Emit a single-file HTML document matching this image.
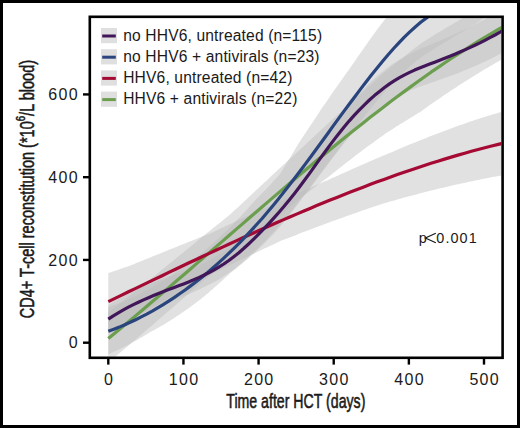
<!DOCTYPE html>
<html><head><meta charset="utf-8"><style>
html,body{margin:0;padding:0;background:#fff}
#w{position:relative;width:520px;height:428px;box-sizing:border-box;border:3px solid #000;overflow:hidden;background:#fff}
svg{position:absolute;left:-3px;top:-3px}
text{font-family:"Liberation Sans",sans-serif;fill:#1a1a1a}
.tk{font-size:16px;letter-spacing:1.3px}
.lg{font-size:15.6px;letter-spacing:0.15px}
.pv{font-size:14.4px;letter-spacing:0.8px}
.ax{font-size:19.6px;stroke:#1a1a1a;stroke-width:0.55px}
</style></head><body><div id="w">
<svg width="520" height="428" viewBox="0 0 520 428">
<defs><clipPath id="cp"><rect x="91" y="18" width="410.3" height="338.5"/></clipPath></defs>
<g clip-path="url(#cp)">
<polygon points="108.3,312.5 110.3,310.9 112.3,309.3 114.3,307.8 116.3,306.2 118.3,304.6 120.3,303.1 122.3,301.5 124.3,300.0 126.3,298.4 128.3,296.8 130.3,295.2 132.3,293.6 134.3,292.0 136.3,290.4 138.3,288.8 140.3,287.2 142.3,285.7 144.3,284.0 146.3,282.4 148.3,280.8 150.3,279.2 152.3,277.6 154.3,276.0 156.3,274.4 158.3,272.8 160.3,271.1 162.3,269.5 164.3,267.9 166.3,266.3 168.3,264.6 170.3,263.0 172.3,261.4 174.3,259.7 176.3,258.1 178.3,256.5 180.3,254.8 182.3,253.2 184.3,251.6 186.3,249.9 188.3,248.3 190.3,246.7 192.3,245.0 194.3,243.4 196.3,241.7 198.3,240.1 200.3,238.4 202.3,236.8 204.3,235.2 206.3,233.6 208.3,232.0 210.3,230.4 212.3,228.8 214.3,227.2 216.3,225.6 218.3,224.0 220.3,222.4 222.3,220.8 224.3,219.2 226.3,217.6 228.3,216.0 230.3,214.3 232.3,212.5 234.3,210.6 236.3,208.8 238.3,206.9 240.3,205.0 242.3,203.2 244.3,201.3 246.3,199.4 248.3,197.5 250.3,195.7 252.3,193.8 254.3,191.9 256.3,190.0 258.3,188.2 260.3,186.3 262.3,184.4 264.3,182.6 266.3,180.7 268.3,178.9 270.3,177.0 272.3,175.1 274.3,173.3 276.3,171.4 278.3,169.5 280.3,167.7 282.3,165.8 284.3,164.0 286.3,162.2 288.3,160.3 290.3,158.5 292.3,156.7 294.3,154.8 296.3,153.0 298.3,151.2 300.3,149.3 302.3,147.4 304.3,145.5 306.3,143.7 308.3,141.8 310.3,139.9 312.3,138.0 314.3,136.2 316.3,134.3 318.3,132.5 320.3,130.6 322.3,128.8 324.3,126.9 326.3,125.1 328.3,123.2 330.3,121.4 332.3,119.5 334.3,117.7 336.3,115.9 338.3,114.0 340.3,112.2 342.3,110.3 344.3,108.5 346.3,106.7 348.3,104.9 350.3,103.1 352.3,101.3 354.3,99.5 356.3,97.6 358.3,95.8 360.3,94.0 362.3,92.2 364.3,90.4 366.3,88.6 368.3,86.7 370.3,84.9 372.3,83.2 374.3,81.4 376.3,79.6 378.3,77.8 380.3,76.1 382.3,74.3 384.3,72.6 386.3,70.9 388.3,69.2 390.3,67.6 392.3,66.0 394.3,64.3 396.3,62.7 398.3,61.1 400.3,59.5 402.3,57.9 404.3,56.4 406.3,54.8 408.3,53.2 410.3,51.6 412.3,50.0 414.3,48.5 416.3,46.9 418.3,45.4 420.3,43.9 422.3,42.6 424.3,41.3 426.3,40.0 428.3,38.8 430.3,37.5 432.3,36.2 434.3,35.0 436.3,33.8 438.3,32.6 440.3,31.4 442.3,30.2 444.3,29.0 446.3,27.8 448.3,26.6 450.3,25.4 452.3,24.2 454.3,23.0 456.3,21.9 458.3,20.7 460.3,19.6 462.3,18.3 464.3,17.1 466.3,15.8 468.3,14.5 470.3,13.2 472.3,11.9 474.3,10.7 476.3,9.4 478.3,8.2 480.3,7.0 482.3,5.8 484.3,4.6 486.3,3.4 488.3,2.2 490.3,1.1 492.3,-0.1 494.3,-1.3 496.3,-2.4 498.3,-3.6 500.3,-4.7 502.3,-5.9 504.3,-7.0 505.0,-7.4 505.0,57.6 504.3,58.0 502.3,59.1 500.3,60.3 498.3,61.4 496.3,62.6 494.3,63.7 492.3,64.9 490.3,66.1 488.3,67.2 486.3,68.4 484.3,69.6 482.3,70.8 480.3,72.0 478.3,73.2 476.3,74.4 474.3,75.7 472.3,76.9 470.3,78.2 468.3,79.5 466.3,80.8 464.3,82.1 462.3,83.3 460.3,84.6 458.3,85.8 456.3,87.2 454.3,88.5 452.3,89.8 450.3,91.1 448.3,92.4 446.3,93.8 444.3,95.1 442.3,96.5 440.3,97.9 438.3,99.3 436.3,100.6 434.3,102.0 432.3,103.3 430.3,104.7 428.3,106.1 426.3,107.6 424.3,109.0 422.3,110.4 420.3,111.9 418.3,113.1 416.3,114.3 414.3,115.5 412.3,116.7 410.3,117.9 408.3,119.2 406.3,120.4 404.3,121.7 402.3,122.9 400.3,124.1 398.3,125.4 396.3,126.6 394.3,127.9 392.3,129.2 390.3,130.5 388.3,131.8 386.3,133.1 384.3,134.4 382.3,135.9 380.3,137.3 378.3,138.8 376.3,140.2 374.3,141.7 372.3,143.2 370.3,144.6 368.3,146.1 366.3,147.6 364.3,149.1 362.3,150.6 360.3,152.1 358.3,153.6 356.3,155.1 354.3,156.6 352.3,158.2 350.3,159.7 348.3,161.2 346.3,162.8 344.3,164.3 342.3,165.9 340.3,167.5 338.3,169.1 336.3,170.7 334.3,172.2 332.3,173.8 330.3,175.4 328.3,176.9 326.3,178.5 324.3,180.0 322.3,181.5 320.3,183.0 318.3,184.5 316.3,186.0 314.3,187.6 312.3,189.1 310.3,190.6 308.3,192.2 306.3,193.7 304.3,195.3 302.3,196.8 300.3,198.4 298.3,200.1 296.3,201.8 294.3,203.4 292.3,205.1 290.3,206.8 288.3,208.5 286.3,210.2 284.3,211.9 282.3,213.6 280.3,215.3 278.3,217.0 276.3,218.7 274.3,220.4 272.3,222.1 270.3,223.9 268.3,225.6 266.3,227.3 264.3,229.0 262.3,230.7 260.3,232.5 258.3,234.2 256.3,235.9 254.3,237.6 252.3,239.4 250.3,241.1 248.3,242.8 246.3,244.6 244.3,246.3 242.3,248.0 240.3,249.8 238.3,251.5 236.3,253.2 234.3,254.9 232.3,256.6 230.3,258.3 228.3,260.0 226.3,261.7 224.3,263.4 222.3,265.1 220.3,266.8 218.3,268.4 216.3,270.1 214.3,271.8 212.3,273.4 210.3,275.1 208.3,276.8 206.3,278.4 204.3,280.1 202.3,281.8 200.3,283.4 198.3,285.2 196.3,286.9 194.3,288.7 192.3,290.4 190.3,292.2 188.3,293.9 186.3,295.7 184.3,297.4 182.3,299.2 180.3,300.9 178.3,302.6 176.3,304.4 174.3,306.1 172.3,307.9 170.3,309.6 168.3,311.4 166.3,313.1 164.3,314.8 162.3,316.5 160.3,318.3 158.3,320.0 156.3,321.8 154.3,323.5 152.3,325.2 150.3,326.9 148.3,328.6 146.3,330.3 144.3,332.1 142.3,333.8 140.3,335.5 138.3,337.2 136.3,338.9 134.3,340.6 132.3,342.3 130.3,344.0 128.3,345.7 126.3,347.4 124.3,349.1 122.3,350.8 120.3,352.4 118.3,354.1 116.3,355.7 114.3,357.4 112.3,359.1 110.3,360.8 108.3,362.5" fill="#bcbcbc" fill-opacity="0.45"/>
<polygon points="108.3,273.1 110.3,272.5 112.3,271.8 114.3,271.1 116.3,270.4 118.3,269.7 120.3,269.0 122.3,268.3 124.3,267.6 126.3,266.9 128.3,266.2 130.3,265.5 132.3,264.7 134.3,263.9 136.3,263.1 138.3,262.3 140.3,261.5 142.3,260.7 144.3,259.8 146.3,259.0 148.3,258.2 150.3,257.4 152.3,256.6 154.3,255.8 156.3,255.0 158.3,254.2 160.3,253.4 162.3,252.6 164.3,251.8 166.3,251.0 168.3,250.1 170.3,249.3 172.3,248.5 174.3,247.7 176.3,246.9 178.3,246.1 180.3,245.3 182.3,244.5 184.3,243.7 186.3,242.9 188.3,242.1 190.3,241.3 192.3,240.5 194.3,239.7 196.3,238.9 198.3,238.1 200.3,237.3 202.3,236.5 204.3,235.7 206.3,235.0 208.3,234.2 210.3,233.4 212.3,232.4 214.3,231.4 216.3,230.5 218.3,229.5 220.3,228.6 222.3,227.7 224.3,226.7 226.3,225.8 228.3,224.8 230.3,223.9 232.3,223.0 234.3,222.0 236.3,221.1 238.3,220.2 240.3,219.2 242.3,218.3 244.3,217.4 246.3,216.5 248.3,215.6 250.3,214.7 252.3,213.7 254.3,212.8 256.3,211.9 258.3,211.0 260.3,210.1 262.3,209.2 264.3,208.3 266.3,207.4 268.3,206.5 270.3,205.6 272.3,204.7 274.3,203.8 276.3,202.9 278.3,202.0 280.3,201.1 282.3,200.2 284.3,199.3 286.3,198.4 288.3,197.5 290.3,196.6 292.3,195.7 294.3,194.8 296.3,193.9 298.3,193.0 300.3,192.1 302.3,191.2 304.3,190.3 306.3,189.4 308.3,188.5 310.3,187.7 312.3,186.8 314.3,185.9 316.3,185.0 318.3,184.2 320.3,183.3 322.3,182.4 324.3,181.6 326.3,180.7 328.3,179.9 330.3,179.0 332.3,178.1 334.3,177.2 336.3,176.3 338.3,175.4 340.3,174.5 342.3,173.6 344.3,172.7 346.3,171.8 348.3,170.9 350.3,170.0 352.3,169.1 354.3,168.2 356.3,167.3 358.3,166.4 360.3,165.6 362.3,164.7 364.3,163.8 366.3,162.9 368.3,162.1 370.3,161.2 372.3,160.3 374.3,159.5 376.3,158.6 378.3,157.8 380.3,157.0 382.3,156.1 384.3,155.3 386.3,154.5 388.3,153.6 390.3,152.8 392.3,151.9 394.3,151.0 396.3,150.2 398.3,149.3 400.3,148.5 402.3,147.6 404.3,146.8 406.3,145.9 408.3,145.1 410.3,144.3 412.3,143.5 414.3,142.7 416.3,141.9 418.3,141.1 420.3,140.3 422.3,139.5 424.3,138.7 426.3,137.9 428.3,137.1 430.3,136.3 432.3,135.5 434.3,134.8 436.3,134.0 438.3,133.3 440.3,132.5 442.3,131.7 444.3,131.0 446.3,130.2 448.3,129.5 450.3,128.7 452.3,128.0 454.3,127.3 456.3,126.5 458.3,125.8 460.3,125.1 462.3,124.4 464.3,123.7 466.3,123.0 468.3,122.3 470.3,121.6 472.3,120.9 474.3,120.3 476.3,119.6 478.3,119.0 480.3,118.3 482.3,117.7 484.3,117.0 486.3,116.4 488.3,115.8 490.3,115.2 492.3,114.6 494.3,114.0 496.3,113.4 498.3,112.8 500.3,112.2 502.3,111.6 504.3,111.0 505.0,110.8 505.0,174.8 504.3,174.9 502.3,175.3 500.3,175.7 498.3,176.0 496.3,176.4 494.3,176.7 492.3,177.1 490.3,177.5 488.3,177.9 486.3,178.3 484.3,178.7 482.3,179.1 480.3,179.5 478.3,179.9 476.3,180.3 474.3,180.8 472.3,181.2 470.3,181.6 468.3,182.1 466.3,182.5 464.3,182.9 462.3,183.3 460.3,183.8 458.3,184.2 456.3,184.6 454.3,185.1 452.3,185.5 450.3,186.0 448.3,186.4 446.3,186.9 444.3,187.4 442.3,187.9 440.3,188.3 438.3,188.8 436.3,189.3 434.3,189.8 432.3,190.3 430.3,190.8 428.3,191.3 426.3,191.8 424.3,192.3 422.3,192.8 420.3,193.3 418.3,193.8 416.3,194.4 414.3,194.9 412.3,195.4 410.3,195.9 408.3,196.4 406.3,197.0 404.3,197.5 402.3,198.1 400.3,198.7 398.3,199.2 396.3,199.8 394.3,200.4 392.3,200.9 390.3,201.5 388.3,202.1 386.3,202.7 384.3,203.3 382.3,203.9 380.3,204.5 378.3,205.2 376.3,205.8 374.3,206.5 372.3,207.2 370.3,207.8 368.3,208.5 366.3,209.2 364.3,210.0 362.3,210.6 360.3,211.3 358.3,212.0 356.3,212.7 354.3,213.4 352.3,214.1 350.3,214.9 348.3,215.6 346.3,216.3 344.3,217.0 342.3,217.7 340.3,218.4 338.3,219.1 336.3,219.9 334.3,220.6 332.3,221.3 330.3,222.1 328.3,222.8 326.3,223.5 324.3,224.2 322.3,225.0 320.3,225.7 318.3,226.5 316.3,227.2 314.3,228.0 312.3,228.7 310.3,229.5 308.3,230.2 306.3,231.0 304.3,231.8 302.3,232.5 300.3,233.3 298.3,234.1 296.3,234.9 294.3,235.7 292.3,236.4 290.3,237.2 288.3,238.0 286.3,238.8 284.3,239.6 282.3,240.3 280.3,241.1 278.3,242.0 276.3,243.0 274.3,243.9 272.3,244.9 270.3,245.8 268.3,246.8 266.3,247.7 264.3,248.6 262.3,249.6 260.3,250.5 258.3,251.5 256.3,252.4 254.3,253.4 252.3,254.3 250.3,255.3 248.3,256.2 246.3,257.2 244.3,258.1 242.3,259.1 240.3,260.1 238.3,261.1 236.3,262.1 234.3,263.0 232.3,264.0 230.3,265.0 228.3,265.9 226.3,266.9 224.3,267.9 222.3,268.9 220.3,269.9 218.3,270.9 216.3,271.8 214.3,272.8 212.3,273.9 210.3,274.9 208.3,276.0 206.3,277.0 204.3,278.1 202.3,279.2 200.3,280.3 198.3,281.5 196.3,282.6 194.3,283.7 192.3,284.8 190.3,285.9 188.3,287.0 186.3,288.1 184.3,289.2 182.3,290.4 180.3,291.5 178.3,292.6 176.3,293.7 174.3,294.8 172.3,295.9 170.3,297.0 168.3,298.1 166.3,299.2 164.3,300.3 162.3,301.4 160.3,302.5 158.3,303.6 156.3,304.7 154.3,305.8 152.3,306.9 150.3,307.9 148.3,309.0 146.3,310.1 144.3,311.3 142.3,312.4 140.3,313.5 138.3,314.6 136.3,315.7 134.3,316.7 132.3,317.8 130.3,318.9 128.3,320.1 126.3,321.2 124.3,322.4 122.3,323.5 120.3,324.7 118.3,325.8 116.3,327.0 114.3,328.2 112.3,329.3 110.3,330.4 108.3,331.6" fill="#bcbcbc" fill-opacity="0.45"/>
<polygon points="108.3,307.3 110.3,306.5 112.3,305.8 114.3,305.0 116.3,304.2 118.3,303.5 120.3,302.7 122.3,301.8 124.3,300.9 126.3,300.0 128.3,299.1 130.3,298.3 132.3,297.3 134.3,296.4 136.3,295.4 138.3,294.4 140.3,293.4 142.3,292.3 144.3,291.3 146.3,290.3 148.3,289.2 150.3,288.1 152.3,287.0 154.3,285.9 156.3,284.7 158.3,283.5 160.3,282.3 162.3,281.1 164.3,279.9 166.3,278.7 168.3,277.4 170.3,276.1 172.3,274.8 174.3,273.5 176.3,272.1 178.3,270.7 180.3,269.3 182.3,267.9 184.3,266.6 186.3,265.1 188.3,263.6 190.3,262.1 192.3,260.6 194.3,259.1 196.3,257.5 198.3,256.0 200.3,254.4 202.3,252.8 204.3,251.0 206.3,249.3 208.3,247.6 210.3,245.8 212.3,244.0 214.3,242.2 216.3,240.3 218.3,238.5 220.3,236.6 222.3,234.7 224.3,232.8 226.3,230.9 228.3,228.9 230.3,226.9 232.3,224.9 234.3,222.9 236.3,220.8 238.3,218.8 240.3,216.7 242.3,214.5 244.3,212.4 246.3,210.2 248.3,208.0 250.3,205.7 252.3,203.5 254.3,201.2 256.3,199.1 258.3,197.1 260.3,195.1 262.3,193.1 264.3,191.0 266.3,188.9 268.3,186.8 270.3,184.7 272.3,182.5 274.3,180.3 276.3,178.1 278.3,175.9 280.3,173.5 282.3,170.3 284.3,167.1 286.3,163.8 288.3,160.6 290.3,157.3 292.3,154.0 294.3,150.7 296.3,147.3 298.3,143.9 300.3,140.7 302.3,137.7 304.3,134.7 306.3,131.8 308.3,128.8 310.3,125.8 312.3,122.8 314.3,119.7 316.3,116.7 318.3,113.7 320.3,110.6 322.3,107.6 324.3,104.7 326.3,101.9 328.3,99.0 330.3,96.1 332.3,93.1 334.3,90.3 336.3,87.4 338.3,84.6 340.3,81.8 342.3,78.9 344.3,76.1 346.3,73.3 348.3,70.5 350.3,67.7 352.3,64.8 354.3,61.9 356.3,59.0 358.3,56.1 360.3,53.2 362.3,50.4 364.3,47.5 366.3,44.7 368.3,41.8 370.3,39.0 372.3,36.2 374.3,33.5 376.3,30.8 378.3,28.1 380.3,25.4 382.3,22.8 384.3,20.2 386.3,17.7 388.3,15.2 390.3,12.8 392.3,10.4 394.3,8.1 396.3,5.8 398.3,3.6 400.3,1.3 402.3,-0.9 404.3,-3.1 406.3,-5.1 408.3,-7.2 410.3,-9.2 412.3,-11.2 414.3,-13.1 416.3,-15.0 418.3,-16.8 420.3,-18.6 422.3,-20.3 424.3,-21.9 426.3,-23.6 428.3,-25.1 430.3,-26.6 432.3,-28.1 434.3,-29.6 436.3,-31.1 438.3,-32.6 440.3,-34.2 442.3,-35.7 444.3,-37.2 446.3,-38.7 448.3,-40.2 450.3,-41.7 452.3,-43.2 454.3,-44.7 456.3,-46.2 458.3,-47.7 460.3,-49.2 462.3,-50.7 464.3,-52.2 466.3,-53.7 468.3,-55.2 470.3,-56.8 472.3,-58.3 474.3,-59.8 476.3,-61.3 478.3,-62.8 480.3,-64.3 482.3,-65.7 484.3,-67.0 486.3,-68.4 488.3,-69.8 490.3,-71.2 492.3,-72.6 494.3,-73.9 496.3,-75.3 498.3,-76.7 500.3,-78.1 502.3,-79.5 504.3,-80.9 505.0,-81.3 505.0,3.7 504.3,4.1 502.3,5.5 500.3,6.9 498.3,8.3 496.3,9.7 494.3,11.1 492.3,12.4 490.3,13.8 488.3,15.2 486.3,16.6 484.3,18.0 482.3,19.3 480.3,20.7 478.3,22.0 476.3,23.2 474.3,24.4 472.3,25.6 470.3,26.8 468.3,28.0 466.3,29.3 464.3,30.5 462.3,31.7 460.3,32.9 458.3,34.1 456.3,35.3 454.3,36.6 452.3,37.8 450.3,39.0 448.3,40.2 446.3,41.4 444.3,42.6 442.3,43.8 440.3,45.1 438.3,46.3 436.3,47.5 434.3,48.7 432.3,49.9 430.3,51.2 428.3,52.4 426.3,53.7 424.3,55.1 422.3,56.5 420.3,58.0 418.3,59.5 416.3,61.0 414.3,62.7 412.3,64.4 410.3,66.1 408.3,67.9 406.3,69.7 404.3,71.5 402.3,73.4 400.3,75.4 398.3,77.4 396.3,79.4 394.3,81.4 392.3,83.5 390.3,85.6 388.3,87.7 386.3,90.0 384.3,92.2 382.3,94.5 380.3,96.9 378.3,99.3 376.3,101.7 374.3,104.1 372.3,106.5 370.3,109.0 368.3,111.5 366.3,114.0 364.3,116.6 362.3,119.2 360.3,121.7 358.3,124.3 356.3,126.9 354.3,129.5 352.3,132.1 350.3,134.7 348.3,137.3 346.3,139.9 344.3,142.6 342.3,145.2 340.3,147.9 338.3,150.5 336.3,153.2 334.3,155.8 332.3,158.5 330.3,161.3 328.3,164.0 326.3,166.7 324.3,169.3 322.3,172.0 320.3,174.6 318.3,177.3 316.3,179.9 314.3,182.5 312.3,185.2 310.3,187.8 308.3,190.4 306.3,193.0 304.3,195.6 302.3,198.1 300.3,200.7 298.3,203.4 296.3,206.0 294.3,208.7 292.3,211.3 290.3,213.9 288.3,216.5 286.3,219.0 284.3,221.6 282.3,224.1 280.3,226.6 278.3,228.8 276.3,231.0 274.3,233.1 272.3,235.2 270.3,237.3 268.3,239.3 266.3,241.4 264.3,243.4 262.3,245.4 260.3,247.3 258.3,249.2 256.3,251.1 254.3,253.0 252.3,254.8 250.3,256.6 248.3,258.4 246.3,260.1 244.3,261.8 242.3,263.5 240.3,265.1 238.3,266.8 236.3,268.4 234.3,270.0 232.3,271.5 230.3,273.0 228.3,274.9 226.3,276.8 224.3,278.6 222.3,280.5 220.3,282.3 218.3,284.1 216.3,285.9 214.3,287.6 212.3,289.4 210.3,291.1 208.3,292.9 206.3,294.6 204.3,296.2 202.3,297.8 200.3,299.4 198.3,300.9 196.3,302.5 194.3,304.0 192.3,305.4 190.3,306.9 188.3,308.4 186.3,309.8 184.3,311.2 182.3,312.6 180.3,313.9 178.3,315.3 176.3,316.6 174.3,317.9 172.3,319.2 170.3,320.5 168.3,321.8 166.3,323.0 164.3,324.2 162.3,325.4 160.3,326.5 158.3,327.7 156.3,328.8 154.3,330.0 152.3,331.1 150.3,332.1 148.3,333.3 146.3,334.6 144.3,335.7 142.3,336.9 140.3,338.1 138.3,339.2 136.3,340.4 134.3,341.5 132.3,342.6 130.3,343.7 128.3,344.7 126.3,345.7 124.3,346.8 122.3,347.8 120.3,348.8 118.3,349.7 116.3,350.7 114.3,351.6 112.3,352.5 110.3,353.4 108.3,354.3" fill="#bcbcbc" fill-opacity="0.45"/>
<polygon points="108.3,305.1 110.3,303.8 112.3,302.6 114.3,301.3 116.3,300.2 118.3,299.0 120.3,297.9 122.3,296.8 124.3,295.8 126.3,294.7 128.3,293.7 130.3,292.7 132.3,291.7 134.3,290.7 136.3,289.8 138.3,288.9 140.3,288.0 142.3,287.2 144.3,286.3 146.3,285.5 148.3,284.7 150.3,283.9 152.3,283.1 154.3,282.3 156.3,281.5 158.3,280.7 160.3,280.0 162.3,279.2 164.3,278.5 166.3,277.8 168.3,277.0 170.3,276.3 172.3,275.6 174.3,274.9 176.3,274.2 178.3,273.4 180.3,272.7 182.3,272.0 184.3,271.3 186.3,270.5 188.3,269.8 190.3,269.0 192.3,268.2 194.3,267.4 196.3,266.6 198.3,265.7 200.3,264.9 202.3,263.9 204.3,262.9 206.3,261.9 208.3,260.9 210.3,259.8 212.3,258.7 214.3,257.6 216.3,256.3 218.3,255.1 220.3,253.8 222.3,252.6 224.3,251.2 226.3,249.8 228.3,248.4 230.3,246.9 232.3,245.3 234.3,243.7 236.3,242.1 238.3,240.5 240.3,238.8 242.3,237.0 244.3,235.2 246.3,233.3 248.3,231.4 250.3,229.5 252.3,227.6 254.3,225.6 256.3,223.6 258.3,221.5 260.3,219.5 262.3,217.4 264.3,215.2 266.3,213.1 268.3,210.9 270.3,208.6 272.3,206.4 274.3,204.1 276.3,201.7 278.3,199.4 280.3,197.0 282.3,194.6 284.3,192.2 286.3,189.7 288.3,187.2 290.3,184.7 292.3,182.1 294.3,179.5 296.3,176.8 298.3,174.2 300.3,171.4 302.3,168.7 304.3,166.0 306.3,163.2 308.3,160.5 310.3,157.7 312.3,154.8 314.3,151.9 316.3,149.1 318.3,146.2 320.3,143.4 322.3,140.5 324.3,137.7 326.3,134.9 328.3,132.0 330.3,129.3 332.3,126.6 334.3,123.9 336.3,121.2 338.3,118.5 340.3,115.9 342.3,113.3 344.3,110.8 346.3,108.4 348.3,105.9 350.3,103.6 352.3,101.3 354.3,99.0 356.3,96.8 358.3,94.6 360.3,92.4 362.3,90.3 364.3,88.2 366.3,86.2 368.3,84.2 370.3,82.3 372.3,80.5 374.3,78.7 376.3,76.9 378.3,75.2 380.3,73.5 382.3,71.9 384.3,70.2 386.3,68.7 388.3,67.2 390.3,65.7 392.3,64.3 394.3,62.9 396.3,61.7 398.3,60.4 400.3,59.2 402.3,58.0 404.3,56.9 406.3,55.8 408.3,54.7 410.3,53.7 412.3,52.7 414.3,51.7 416.3,50.8 418.3,49.8 420.3,49.0 422.3,48.1 424.3,47.2 426.3,46.4 428.3,45.6 430.3,44.7 432.3,43.9 434.3,43.0 436.3,42.2 438.3,41.4 440.3,40.5 442.3,39.6 444.3,38.8 446.3,37.9 448.3,37.0 450.3,36.2 452.3,35.3 454.3,34.3 456.3,33.4 458.3,32.5 460.3,31.6 462.3,30.6 464.3,29.7 466.3,28.7 468.3,27.7 470.3,26.7 472.3,25.7 474.3,24.7 476.3,23.7 478.3,22.7 480.3,21.6 482.3,20.5 484.3,19.4 486.3,18.3 488.3,17.2 490.3,16.0 492.3,14.9 494.3,13.8 496.3,12.6 498.3,11.4 500.3,10.2 502.3,9.0 504.3,7.7 505.0,7.3 505.0,51.3 504.3,51.7 502.3,52.8 500.3,53.8 498.3,54.9 496.3,55.9 494.3,57.0 492.3,57.9 490.3,58.9 488.3,59.9 486.3,60.9 484.3,61.8 482.3,62.8 480.3,63.8 478.3,64.7 476.3,65.5 474.3,66.4 472.3,67.2 470.3,68.1 468.3,68.9 466.3,69.7 464.3,70.6 462.3,71.4 460.3,72.2 458.3,73.0 456.3,73.7 454.3,74.5 452.3,75.2 450.3,76.0 448.3,76.7 446.3,77.4 444.3,78.1 442.3,78.9 440.3,79.6 438.3,80.3 436.3,81.0 434.3,81.7 432.3,82.3 430.3,83.0 428.3,83.7 426.3,84.4 424.3,85.1 422.3,85.8 420.3,86.5 418.3,87.2 416.3,88.0 414.3,88.8 412.3,89.6 410.3,90.5 408.3,91.4 406.3,92.3 404.3,93.2 402.3,94.2 400.3,95.2 398.3,96.3 396.3,97.4 394.3,98.5 392.3,99.8 390.3,101.0 388.3,102.3 386.3,103.7 384.3,105.1 382.3,106.6 380.3,108.0 378.3,109.6 376.3,111.1 374.3,112.7 372.3,114.4 370.3,116.1 368.3,117.9 366.3,119.7 364.3,121.6 362.3,123.5 360.3,125.4 358.3,127.4 356.3,129.5 354.3,131.6 352.3,133.7 350.3,135.8 348.3,138.0 346.3,140.3 344.3,142.6 342.3,145.0 340.3,147.4 338.3,149.9 336.3,152.4 334.3,154.9 332.3,157.5 330.3,160.0 328.3,162.7 326.3,165.3 324.3,168.0 322.3,170.7 320.3,173.4 318.3,176.1 316.3,178.8 314.3,181.6 312.3,184.3 310.3,187.0 308.3,189.7 306.3,192.3 304.3,194.9 302.3,197.5 300.3,200.1 298.3,202.7 296.3,205.3 294.3,207.8 292.3,210.2 290.3,212.7 288.3,215.1 286.3,217.5 284.3,219.9 282.3,222.1 280.3,224.4 278.3,226.6 276.3,228.8 274.3,231.0 272.3,233.2 270.3,235.3 268.3,237.4 266.3,239.5 264.3,241.5 262.3,243.5 260.3,245.5 258.3,247.5 256.3,249.4 254.3,251.4 252.3,253.3 250.3,255.2 248.3,257.1 246.3,258.9 244.3,260.7 242.3,262.4 240.3,264.1 238.3,265.8 236.3,267.3 234.3,268.9 232.3,270.4 230.3,271.9 228.3,273.3 226.3,274.7 224.3,276.1 222.3,277.3 220.3,278.5 218.3,279.7 216.3,280.9 214.3,282.0 212.3,283.1 210.3,284.1 208.3,285.1 206.3,286.1 204.3,287.1 202.3,288.0 200.3,288.9 198.3,289.8 196.3,290.7 194.3,291.7 192.3,292.5 190.3,293.4 188.3,294.3 186.3,295.1 184.3,296.0 182.3,296.8 180.3,297.6 178.3,298.4 176.3,299.2 174.3,300.0 172.3,300.8 170.3,301.6 168.3,302.4 166.3,303.2 164.3,304.1 162.3,304.9 160.3,305.7 158.3,306.5 156.3,307.4 154.3,308.3 152.3,309.1 150.3,310.0 148.3,310.9 146.3,311.8 144.3,312.8 142.3,313.7 140.3,314.6 138.3,315.6 136.3,316.6 134.3,317.6 132.3,318.6 130.3,319.7 128.3,320.8 126.3,321.9 124.3,323.1 122.3,324.2 120.3,325.4 118.3,326.6 116.3,327.8 114.3,329.1 112.3,330.4 110.3,331.7 108.3,333.1" fill="#bcbcbc" fill-opacity="0.45"/>
<polyline points="108.3,338.5 115.0,332.9 121.7,327.4 128.5,321.8 135.2,316.1 141.9,310.5 148.6,304.8 155.4,299.1 162.1,293.3 168.8,287.6 175.5,281.8 182.3,276.0 189.0,270.2 195.7,264.4 202.4,258.6 209.2,252.7 215.9,246.9 222.6,241.1 229.3,235.2 236.1,229.4 242.8,223.6 249.5,217.8 256.2,212.0 262.9,206.2 269.7,200.4 276.4,194.6 283.1,188.9 289.8,183.2 296.6,177.5 303.3,171.8 310.0,166.2 316.7,160.6 323.5,155.0 330.2,149.5 336.9,144.0 343.6,138.5 350.4,133.1 357.1,127.7 363.8,122.4 370.5,117.1 377.2,111.9 384.0,106.7 390.7,101.6 397.4,96.5 404.1,91.6 410.9,86.6 417.6,81.8 424.3,77.0 431.0,72.2 437.8,67.6 444.5,63.0 451.2,58.5 457.9,54.1 464.7,49.8 471.4,45.5 478.1,41.3 484.8,37.3 491.6,33.3 498.3,29.4 505.0,25.6" fill="none" stroke="#6c9e4f" stroke-width="3.2" stroke-linejoin="round" stroke-linecap="butt"/>
<polyline points="108.3,301.6 115.0,298.4 121.7,295.1 128.5,291.8 135.2,288.6 141.9,285.4 148.6,282.1 155.4,278.9 162.1,275.7 168.8,272.4 175.5,269.2 182.3,266.0 189.0,262.8 195.7,259.7 202.4,256.5 209.2,253.4 215.9,250.2 222.6,247.1 229.3,244.0 236.1,240.9 242.8,237.8 249.5,234.8 256.2,231.8 262.9,228.8 269.7,225.8 276.4,222.8 283.1,219.9 289.8,217.0 296.6,214.1 303.3,211.2 310.0,208.4 316.7,205.6 323.5,202.8 330.2,200.1 336.9,197.4 343.6,194.7 350.4,192.1 357.1,189.4 363.8,186.9 370.5,184.3 377.2,181.8 384.0,179.4 390.7,177.0 397.4,174.6 404.1,172.2 410.9,169.9 417.6,167.7 424.3,165.5 431.0,163.3 437.8,161.2 444.5,159.1 451.2,157.1 457.9,155.1 464.7,153.2 471.4,151.3 478.1,149.5 484.8,147.7 491.6,146.0 498.3,144.4 505.0,142.8" fill="none" stroke="#a50a34" stroke-width="3.2" stroke-linejoin="round" stroke-linecap="butt"/>
<polyline points="108.3,331.3 113.8,329.2 119.3,327.1 124.8,324.7 130.2,322.3 135.7,319.7 141.2,316.9 146.7,314.1 152.2,311.1 157.7,307.9 163.2,304.6 168.7,301.2 174.1,297.6 179.6,293.8 185.1,290.0 190.6,285.9 196.1,281.7 201.6,277.4 207.1,272.9 212.5,268.2 218.0,263.4 223.5,258.4 229.0,253.2 234.5,247.9 240.0,242.4 245.5,236.7 250.9,230.9 256.4,224.8 261.9,218.7 267.4,212.3 272.9,205.7 278.4,199.0 283.9,192.1 289.4,185.1 294.8,178.0 300.3,170.7 305.8,163.4 311.3,156.0 316.8,148.5 322.3,141.0 327.8,133.5 333.2,125.9 338.7,118.4 344.2,110.9 349.7,103.5 355.2,96.2 360.7,88.9 366.2,81.7 371.6,74.7 377.1,67.9 382.6,61.2 388.1,54.7 393.6,48.5 399.1,42.6 404.6,36.9 410.1,31.6 415.5,26.7 421.0,22.1 426.5,17.9 432.0,14.1" fill="none" stroke="#2a447e" stroke-width="3.2" stroke-linejoin="round" stroke-linecap="butt"/>
<polyline points="108.3,319.1 113.3,315.8 118.3,312.8 123.4,309.9 128.4,307.2 133.4,304.6 138.4,302.2 143.5,299.9 148.5,297.7 153.5,295.6 158.5,293.5 163.5,291.6 168.6,289.6 173.6,287.7 178.6,285.8 183.6,283.9 188.6,281.9 193.7,279.8 198.7,277.6 203.7,275.3 208.7,272.8 213.8,270.1 218.8,267.1 223.8,264.0 228.8,260.5 233.8,256.7 238.9,252.7 243.9,248.3 248.9,243.7 253.9,238.9 258.9,233.9 264.0,228.7 269.0,223.4 274.0,217.9 279.0,212.2 284.1,206.3 289.1,200.2 294.1,193.9 299.1,187.4 304.1,180.7 309.2,173.9 314.2,166.9 319.2,159.9 324.2,153.0 329.2,146.1 334.3,139.4 339.3,132.9 344.3,126.7 349.3,120.8 354.4,115.2 359.4,109.8 364.4,104.8 369.4,100.0 374.4,95.6 379.5,91.4 384.5,87.5 389.5,83.9 394.5,80.6 399.5,77.6 404.6,74.9 409.6,72.4 414.6,70.1 419.6,68.0 424.7,66.0 429.7,64.1 434.7,62.2 439.7,60.3 444.7,58.3 449.8,56.3 454.8,54.2 459.8,52.1 464.8,49.9 469.8,47.6 474.9,45.3 479.9,42.9 484.9,40.3 489.9,37.7 495.0,35.0 500.0,32.2 505.0,29.3" fill="none" stroke="#41175a" stroke-width="3.2" stroke-linejoin="round" stroke-linecap="butt"/>
</g>
<rect x="89.8" y="16.8" width="412.8" height="341" fill="none" stroke="#000" stroke-width="2.6"/>
<line x1="108.30" y1="358" x2="108.30" y2="364.6" stroke="#000" stroke-width="2.4"/>
<text x="109.00" y="384.5" text-anchor="middle" class="tk">0</text>
<line x1="183.44" y1="358" x2="183.44" y2="364.6" stroke="#000" stroke-width="2.4"/>
<text x="184.14" y="384.5" text-anchor="middle" class="tk">100</text>
<line x1="258.58" y1="358" x2="258.58" y2="364.6" stroke="#000" stroke-width="2.4"/>
<text x="259.28" y="384.5" text-anchor="middle" class="tk">200</text>
<line x1="333.72" y1="358" x2="333.72" y2="364.6" stroke="#000" stroke-width="2.4"/>
<text x="334.42" y="384.5" text-anchor="middle" class="tk">300</text>
<line x1="408.86" y1="358" x2="408.86" y2="364.6" stroke="#000" stroke-width="2.4"/>
<text x="409.56" y="384.5" text-anchor="middle" class="tk">400</text>
<line x1="484.00" y1="358" x2="484.00" y2="364.6" stroke="#000" stroke-width="2.4"/>
<text x="484.70" y="384.5" text-anchor="middle" class="tk">500</text>
<line x1="83" y1="342.70" x2="89" y2="342.70" stroke="#000" stroke-width="2.4"/>
<text x="78.9" y="348.30" text-anchor="end" class="tk">0</text>
<line x1="83" y1="259.94" x2="89" y2="259.94" stroke="#000" stroke-width="2.4"/>
<text x="78.9" y="265.54" text-anchor="end" class="tk">200</text>
<line x1="83" y1="177.18" x2="89" y2="177.18" stroke="#000" stroke-width="2.4"/>
<text x="78.9" y="182.78" text-anchor="end" class="tk">400</text>
<line x1="83" y1="94.42" x2="89" y2="94.42" stroke="#000" stroke-width="2.4"/>
<text x="78.9" y="100.02" text-anchor="end" class="tk">600</text>
<rect x="101" y="28.0" width="16" height="15.2" fill="#dfdfdf"/>
<rect x="102.2" y="34.5" width="13.6" height="3" fill="#41175a"/>
<text x="123.2" y="40.6" class="lg">no HHV6, untreated (n=115)</text>
<rect x="101" y="49.2" width="16" height="15.2" fill="#dfdfdf"/>
<rect x="102.2" y="55.7" width="13.6" height="3" fill="#2a447e"/>
<text x="123.2" y="61.8" class="lg">no HHV6 + antivirals (n=23)</text>
<rect x="101" y="70.4" width="16" height="15.2" fill="#dfdfdf"/>
<rect x="102.2" y="76.9" width="13.6" height="3" fill="#a50a34"/>
<text x="123.2" y="83.0" class="lg">HHV6, untreated (n=42)</text>
<rect x="101" y="91.6" width="16" height="15.2" fill="#dfdfdf"/>
<rect x="102.2" y="98.1" width="13.6" height="3" fill="#6c9e4f"/>
<text x="123.2" y="104.2" class="lg">HHV6 + antivirals (n=22)</text>
<text x="418.8" y="242.8" class="pv">p</text>
<path d="M435.8,233.2 L425.4,238 L435.8,242.8" fill="none" stroke="#1a1a1a" stroke-width="1.25"/>
<text x="436.3" y="242.8" class="pv" style="letter-spacing:1.1px">0.001</text>
<text x="0" y="0" class="ax" transform="translate(226.3,408.3) scale(0.722,1)">Time after HCT (days)</text>
<text x="0" y="0" class="ax" transform="translate(33.7,318.2) rotate(-90) scale(0.741,1)">CD4+ T-cell reconstitution (*10<tspan dy="-8.3" font-size="13">6</tspan><tspan dy="8.3">/L blood)</tspan></text>
</svg></div></body></html>
